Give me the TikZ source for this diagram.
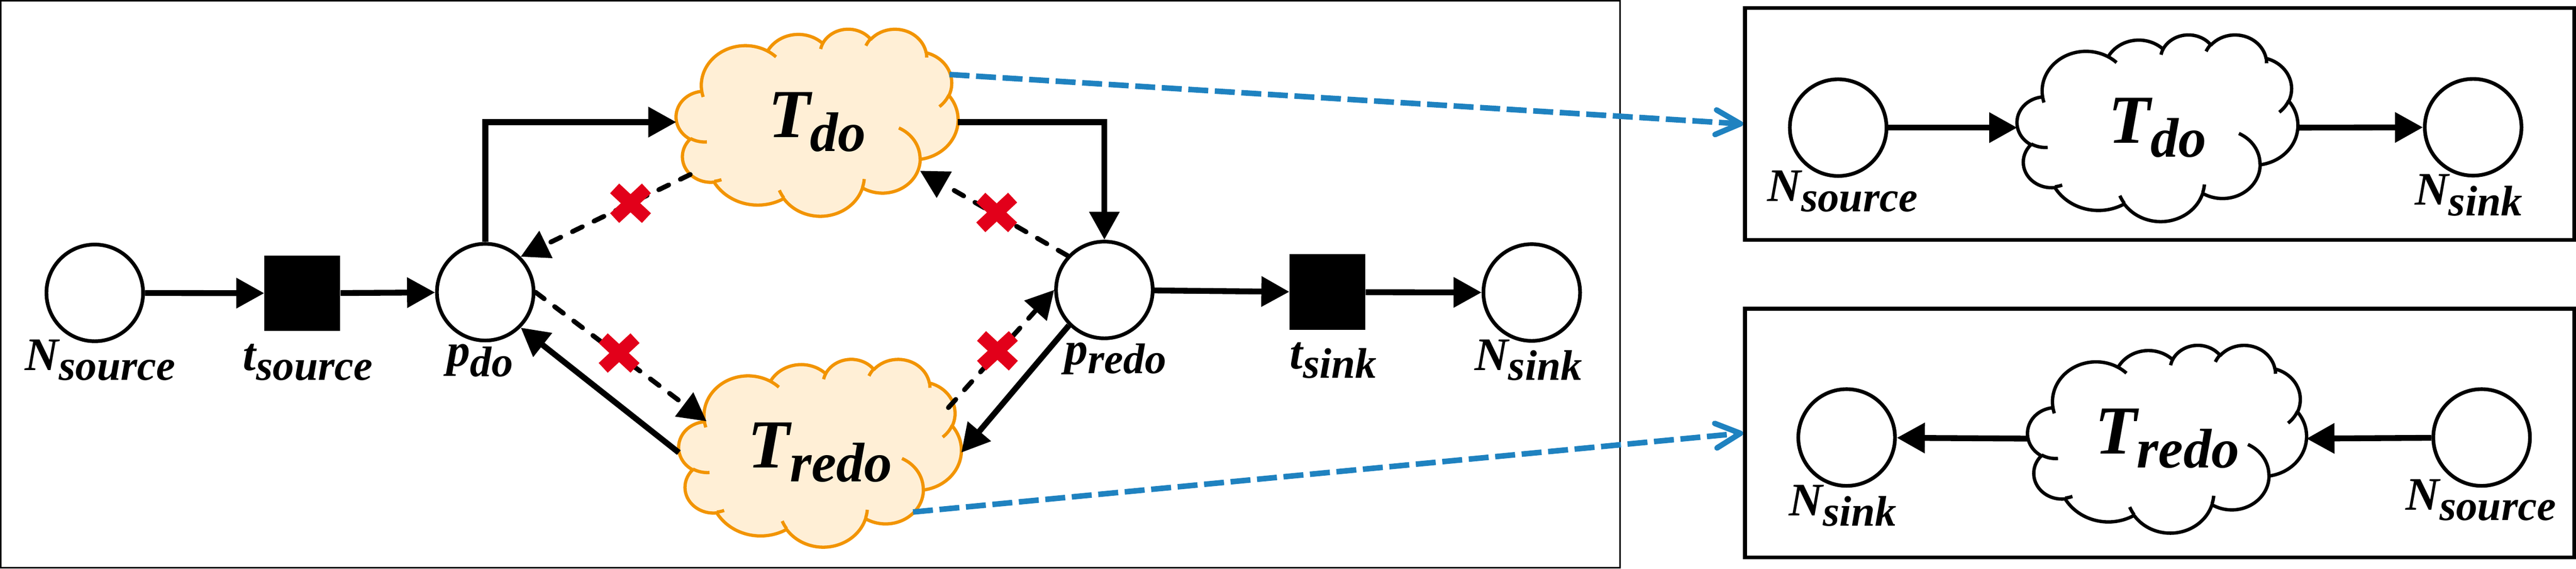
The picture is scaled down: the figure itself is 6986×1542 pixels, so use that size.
\documentclass[tikz,border=0pt]{standalone}
\usepackage{fontspec}
\setmainfont{Liberation Serif}
\usetikzlibrary{arrows.meta,calc}
\definecolor{xred}{HTML}{E2001A}
\definecolor{bluec}{HTML}{1F82C0}
\definecolor{orangec}{HTML}{F29400}
\definecolor{cloudfill}{HTML}{FFEFD6}
% PowerPoint-like cloud outline (43.2 x 43.2 frame, y downwards)
\gdef\cloudoutline{}
\foreach \rx/\ry/\st/\sw in {
 6.753/9.190/-190.48748/123.78053,
 5.333/7.267/-144.10238/89.94523,
 4.365/5.945/-145.80792/99.72302,
 4.857/6.595/-130.98607/117.24173,
 5.333/7.273/-78.70888/109.02692,
 6.775/9.220/-46.26725/130.269,
 5.785/7.867/0.62502/114.03333,
 6.752/9.215/22.4516/115.17255,
 7.720/10.543/66.24263/75.71102,
 4.360/5.918/-274.94208/146.73557,
 4.345/5.945/-246.8285/152.51885}{%
  \pgfmathsetmacro\ta{atan2(\rx*sin(\st),\ry*cos(\st))}%
  \pgfmathsetmacro\tb{atan2(\rx*sin(\st+\sw),\ry*cos(\st+\sw))}%
  \pgfmathsetmacro\dt{mod((\tb)-(\ta)+720,360)}%
  \xdef\cloudoutline{\cloudoutline arc[start angle=\ta, delta angle=\dt, x radius=\rx, y radius=\ry]}%
}
\gdef\cloudinner{}
\foreach \sx/\sy/\rx/\ry/\st/\sw in {
 4.693/26.177/4.345/5.945/86.742/26.4295,
 6.928/34.899/4.360/5.918/73.61047/11.44747,
 16.478/39.090/6.752/9.215/137.62415/14.0811,
 28.827/34.751/6.752/9.215/6.45327/15.99835,
 34.129/22.954/5.785/7.867/-70.29235/70.91737,
 41.798/15.354/5.333/7.273/30.31803/27.7515,
 38.324/5.426/4.857/6.595/-13.74433/14.85962,
 29.078/3.952/4.857/6.595/-149.18145/18.19537,
 22.141/4.720/4.365/5.945/-163.49427/17.68635,
 14.000/5.192/6.753/9.190/-66.70695/12.31935,
 4.127/15.789/6.753/9.190/157.65435/11.85817}{%
  \pgfmathsetmacro\ta{atan2(\rx*sin(\st),\ry*cos(\st))}%
  \pgfmathsetmacro\tb{atan2(\rx*sin(\st+\sw),\ry*cos(\st+\sw))}%
  \pgfmathsetmacro\dt{mod((\tb)-(\ta)+720,360)}%
  \xdef\cloudinner{\cloudinner (\sx,\sy) arc[start angle=\ta, delta angle=\dt, x radius=\rx, y radius=\ry]}%
}
% #1 name, #2 x, #3 y, #4 w, #5 h, #6 style, #7 text
\newcommand\cloudnode[7]{%
  \begin{scope}[shift={(#2-#4/2,#3-#5/2)}, xscale=#4/43.2, yscale=#5/43.2]
    \path[#6] (3.9,14.37) \cloudoutline -- cycle;
    \path[#6, fill=none] \cloudinner;
  \end{scope}
  \node[minimum width=#4*0.01cm, minimum height=#5*0.01cm, inner sep=0pt, outer sep=0pt] (#1) at (#2,#3) {#7};
}
\newcommand\lab[3]{{\fontsize{36}{40}\selectfont\bfseries\itshape #1}\raisebox{-#3}{\fontsize{33}{36}\selectfont\bfseries\itshape #2}}
\newcommand\blab[2]{{\fontsize{53}{56}\selectfont\bfseries\itshape #1}\raisebox{-10.8pt}{\fontsize{43}{46}\selectfont\bfseries\itshape #2}}
\newcommand\redx[2]{%
  \begin{scope}[shift={(#1,#2)}]
    \fill[xred, rotate=43] (-59,-18) rectangle (59,18);
    \fill[xred, rotate=-43] (-59,-18) rectangle (59,18);
  \end{scope}}

\begin{document}
\begin{tikzpicture}[x=0.01cm, y=-0.01cm,
  place/.style={circle, draw, line width=2.85pt, minimum size=2.62cm, inner sep=0pt, fill=white},
  trans/.style={rectangle, fill=black, minimum size=2.05cm, inner sep=0pt},
  conn/.style={draw, line width=4.5pt, -{Triangle[length=21.6pt, width=22.5pt]}},
  dconn/.style={draw, line width=3.7pt, line cap=round, dash pattern=on 8.5pt off 10pt, -{Triangle[length=21.6pt, width=22.5pt]}},
  bconn/.style={draw=bluec, line width=4.27pt, dash pattern=on 15.4pt off 5.1pt, -{Straight Barb[length=19pt, width=19pt, round]}},
  ocloud/.style={draw=orangec, fill=cloudfill, line width=2.5pt, line join=round},
  wcloud/.style={draw=black, fill=white, line width=2.6pt, line join=round},
  lbl/.style={anchor=base, inner sep=0pt}]
\useasboundingbox (0,0) rectangle (6986,1542);
% frames
\node[draw, line width=1.2pt, minimum width=43.89cm, minimum height=15.35cm, inner sep=0pt] (boxL) at (2197.5,770.5) {};
\node[draw, line width=2.85pt, minimum width=22.48cm, minimum height=6.28cm, inner sep=0pt] (boxT) at (5857,336) {};
\node[draw, line width=2.85pt, minimum width=22.48cm, minimum height=6.74cm, inner sep=0pt] (boxB) at (5857,1174) {};
% clouds
\cloudnode{tdoL}{2216}{331}{764}{507}{ocloud}{\blab{T}{do}}
\cloudnode{tredoL}{2224}{1227}{766}{509}{ocloud}{\blab{T}{redo}}
\cloudnode{tdoR}{5851}{346}{761}{506}{wcloud}{\blab{T}{do}}
\cloudnode{tredoR}{5877}{1189}{756}{509}{wcloud}{\blab{T}{redo}}
% places and transitions
\node[place] (nsrcL) at (257,794) {};
\node[trans] (tsrc) at (820,795) {};
\node[place] (pdo) at (1316,792) {};
\node[place] (predo) at (2995,786) {};
\node[trans] (tsink) at (3600,792) {};
\node[place] (nsinkL) at (4154,793) {};
\node[place] (nsrcR1) at (4985,346) {};
\node[place] (nsinkR1) at (6707,345) {};
\node[place] (nsinkR2) at (5008,1186) {};
\node[place] (nsrcR2) at (6730,1186) {};
% labels
\node[lbl] (lNsrcL) at (272,1004) {\lab{N}{source}{7.5pt}};
\node[lbl] (lTsrc) at (835,1004) {\lab{t}{source}{7.5pt}};
\node[lbl] (lPdo) at (1302,992) {\lab{p}{do}{8pt}};
\node[lbl] (lPredo) at (3025,988) {\lab{p}{redo}{7pt}};
\node[lbl] (lTsink) at (3616,999) {\lab{t}{sink}{7.5pt}};
\node[lbl] (lNsinkL) at (4145,1004) {\lab{N}{sink}{7.5pt}};
\node[lbl] (lNsrcR1) at (4997,546) {\lab{N}{source}{8pt}};
\node[lbl] (lNsinkR1) at (6695,556) {\lab{N}{sink}{8pt}};
\node[lbl] (lNsinkR2) at (4998,1398) {\lab{N}{sink}{8pt}};
\node[lbl] (lNsrcR2) at (6728,1383) {\lab{N}{source}{8pt}};
% left panel connectors
\draw[conn] (nsrcL) -- (tsrc);
\draw[conn] (tsrc) -- (pdo);
\draw[conn] (pdo.north) |- (tdoL.west);
\draw[conn] (tdoL.east) -| (predo.north);
\draw[dconn] ($(tdoL.center)+(-344,142)$) -- (pdo.45);
\draw[dconn] (pdo.east) -- ($(tredoL.center)+(-308,-85)$);
\draw[conn] (tredoL.west) -- (pdo.-45);
\draw[dconn] (predo.137) -- ($(tdoL.center)+(279,132)$);
\draw[dconn] ($(tredoL.center)+(348,-122)$) -- (predo.west);
\draw[conn] (predo.225) -- (tredoL.east);
\draw[conn] (predo) -- (tsink);
\draw[conn] (tsink) -- (nsinkL);
% blocked marks
\redx{1710}{551}
\redx{1679}{957}
\redx{2703}{576}
\redx{2705}{951}
% zoom-out connectors
\draw[bconn] ($(tdoL.center)+(359,-129)$) -- (boxT.west);
\draw[bconn] ($(tredoL.center)+(252,161)$) -- (boxB.west);
% right panels
\draw[conn] (nsrcR1) -- (tdoR.west);
\draw[conn] (tdoR.east) -- (nsinkR1);
\draw[conn] (nsrcR2) -- (tredoR.east);
\draw[conn] (tredoR.west) -- (nsinkR2);
\end{tikzpicture}
\end{document}
